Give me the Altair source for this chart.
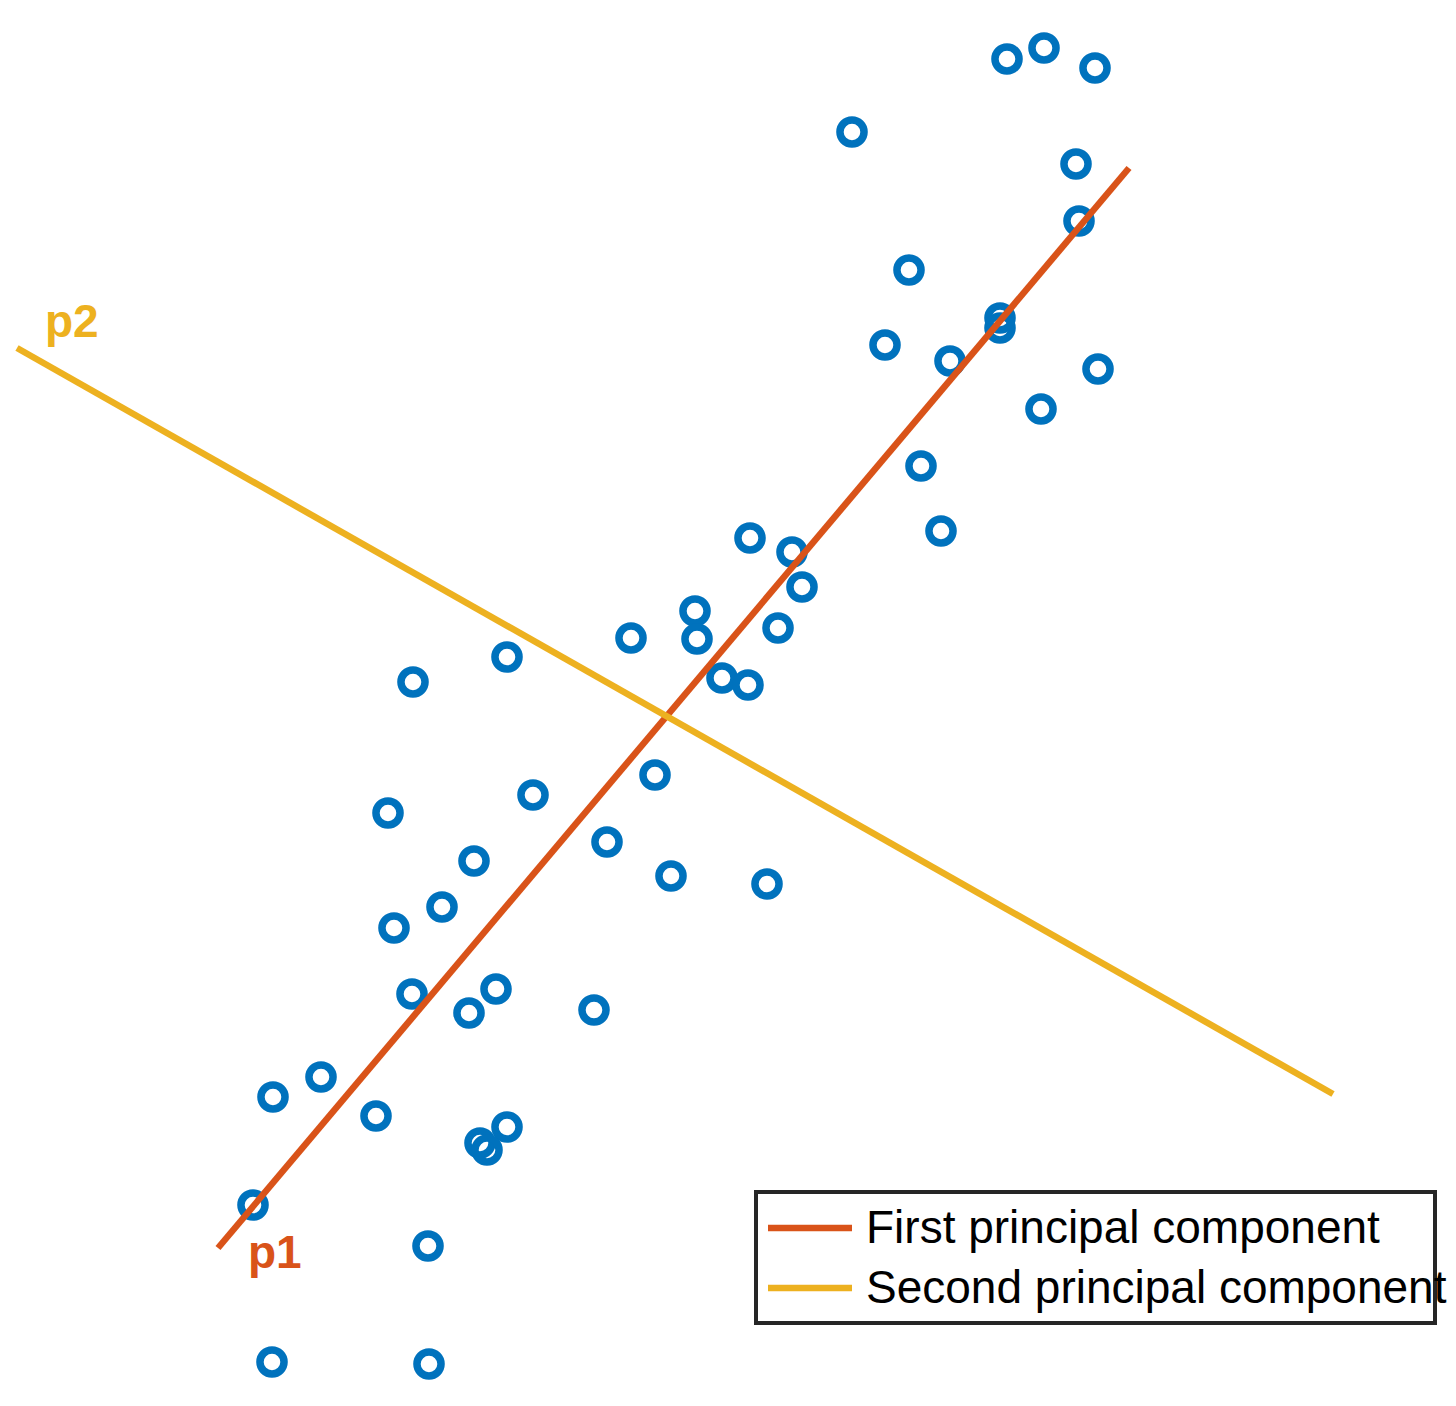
import pandas as pd
import altair as alt


# ================== DATA (chart units) ==================

pts_x = [1007, 1044, 1095, 852, 1076, 1079, 909, 1000, 1000, 885,
         950, 1098, 1041, 921, 941, 750, 792, 802, 695, 697,
         631, 778, 507, 413, 722, 748, 655, 533, 388, 607,
         474, 671, 767, 442, 394, 412, 496, 469, 594, 321,
         273, 376, 507, 480, 487, 253, 428, 272, 429]
pts_y = [59, 48, 68, 132, 164, 221, 270, 318, 328, 345,
         361, 369, 409, 466, 531, 538, 552, 587, 611, 639,
         638, 628, 657, 682, 678, 685, 775, 795, 813, 842,
         861, 876, 884, 907, 928, 994, 989, 1013, 1010, 1077,
         1097, 1116, 1127, 1143, 1150, 1205, 1246, 1362, 1364]

components = ["First principal component", "Second principal component"]
comp_colors = ["#D95319", "#EDB120"]
comp_tags = ["p1", "p2"]

# line end points for each component
p1_x = [218, 1129]
p1_y = [1248, 168]
p2_x = [17, 1333]
p2_y = [348, 1094]

# where the p1 / p2 tags sit
tag_x = [248, 45]
tag_y = [1268, 337]

# legend box and rows
legend_box_x = [756, 1435]
legend_box_y = [1192, 1323]
legend_row_y = [1228, 1288]
legend_line_x = [768, 852]
legend_text_x = 866


# ================== STYLE ==================

BLUE = "#0072BD"
FONT = "Liberation Sans"
XS = alt.Scale(domain=[8, 1448], nice=False, zero=False)
YS = alt.Scale(domain=[8, 1398], nice=False, zero=False, reverse=True)
COLOR = alt.Scale(domain=components, range=comp_colors)


def X(field, **kw):
    return alt.X(field, type="quantitative", scale=XS, axis=None, **kw)


def Y(field, **kw):
    return alt.Y(field, type="quantitative", scale=YS, axis=None, **kw)


def build_chart() -> alt.LayerChart:
    pts = pd.DataFrame({"x": pts_x, "y": pts_y})

    lines = pd.DataFrame({
        "comp": [components[0]] * 2 + [components[1]] * 2,
        "x": p1_x + p2_x,
        "y": p1_y + p2_y,
        "order": [0, 1, 0, 1],
    })

    tags = pd.DataFrame({"tag": comp_tags, "comp": components, "x": tag_x, "y": tag_y})

    box = pd.DataFrame({
        "x": [legend_box_x[0]], "x2": [legend_box_x[1]],
        "y": [legend_box_y[0]], "y2": [legend_box_y[1]],
    })
    leg = pd.DataFrame({
        "comp": components,
        "y": legend_row_y,
        "x": [legend_line_x[0]] * 2,
        "x2": [legend_line_x[1]] * 2,
        "tx": [legend_text_x] * 2,
    })

    scatter = alt.Chart(pts).mark_point(
        shape="circle", filled=False, size=580, strokeWidth=7.5, color=BLUE, opacity=1
    ).encode(x=X("x"), y=Y("y"))

    pc_lines = alt.Chart(lines).mark_line(strokeWidth=6.5, strokeCap="butt").encode(
        x=X("x"), y=Y("y"), order="order:Q",
        color=alt.Color("comp:N", scale=COLOR, legend=None),
        detail="comp:N",
    )

    pc_tags = alt.Chart(tags).mark_text(
        font=FONT, fontSize=46, fontWeight="bold", align="left", baseline="alphabetic"
    ).encode(
        x=X("x"), y=Y("y"), text="tag:N",
        color=alt.Color("comp:N", scale=COLOR, legend=None),
    )

    legend_box = alt.Chart(box).mark_rect(
        fill="white", stroke="#262626", strokeWidth=4
    ).encode(x=X("x"), x2="x2", y=Y("y"), y2="y2")

    legend_lines = alt.Chart(leg).mark_rule(strokeWidth=6.5).encode(
        x=X("x"), x2="x2", y=Y("y"),
        color=alt.Color("comp:N", scale=COLOR, legend=None),
    )

    legend_text = alt.Chart(leg).mark_text(
        font=FONT, fontSize=46, align="left", baseline="middle", color="black", dy=1
    ).encode(x=X("tx"), y=Y("y"), text="comp:N")

    chart = (
        alt.layer(scatter, pc_lines, pc_tags, legend_box, legend_lines, legend_text)
        .properties(width=1440, height=1390, autosize=alt.AutoSizeParams(type="none"), padding=0)
        .configure(background="white")
        .configure_view(stroke=None)
    )
    return chart


if __name__ == "__main__":
    chart = build_chart()
    chart.save("out.html", embed_options={"renderer": "svg", "actions": False})
